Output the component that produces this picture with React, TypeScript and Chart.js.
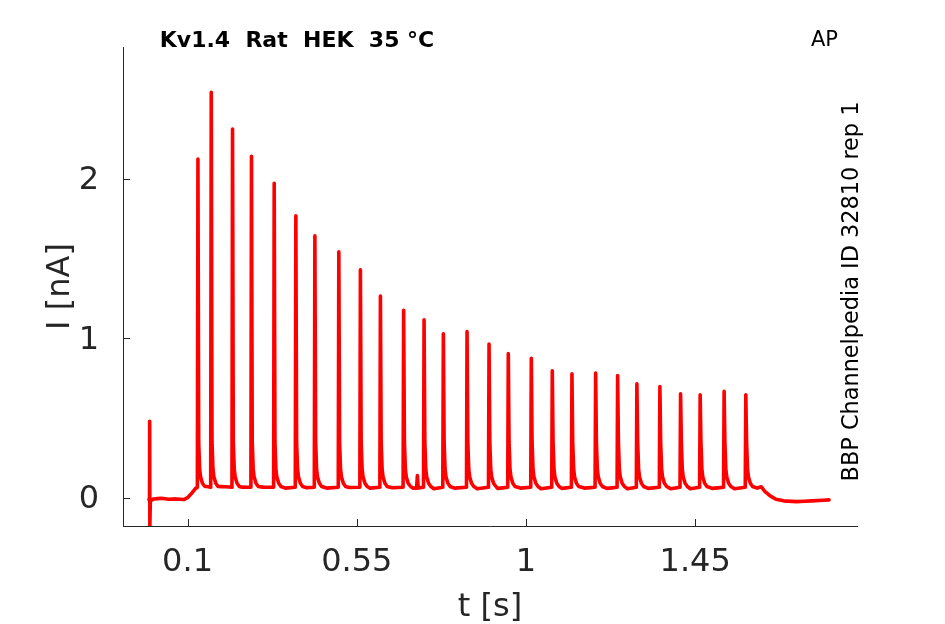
import React, { useEffect, useRef } from "react";
import { Chart, registerables } from "chart.js";

Chart.register(...registerables);

// ---- data ----
// spike (action potential) times [s] and peak currents [nA]
const spikeTimes = [
  0.1276, 0.163, 0.2196, 0.27, 0.3304, 0.388, 0.4386, 0.5023, 0.5597, 0.6129,
  0.6747, 0.729, 0.7803, 0.8433, 0.9018, 0.953, 1.0142, 1.07, 1.1223, 1.1853,
  1.2438, 1.295, 1.3562, 1.4112, 1.4633, 1.527, 1.5847,
];
const spikePeaks = [
  2.126, 2.545, 2.314, 2.143, 1.973, 1.769, 1.643, 1.543, 1.43, 1.266,
  1.176, 1.117, 1.029, 1.042, 0.964, 0.904, 0.874, 0.797, 0.778, 0.782,
  0.767, 0.715, 0.698, 0.652, 0.646, 0.667, 0.646,
];
// shape of each spike's foot and decaying tail (time offset from peak, current)
const spikeFootDt = [-0.0015, 0.002, 0.0045, 0.007, 0.012, 0.018];
const spikeFootI = [0.065, 0.35, 0.18, 0.13, 0.09, 0.07];

// trace between spikes: time [s] and current [nA]
const baseT = [
  -0.003, -0.0012, -0.0008, -0.0003, 0.001, 0.01, 0.03, 0.05, 0.07, 0.09,
  0.1, 0.112, 0.122,
  0.152, 0.2, 0.245, 0.3, 0.36, 0.415, 0.47, 0.53, 0.585, 0.645,
  0.7, 0.709, 0.7112, 0.7135, 0.755, 0.81, 0.87, 0.925, 0.985, 1.04, 1.095,
  1.155, 1.215, 1.27, 1.325, 1.385, 1.437, 1.495, 1.555,
  1.615, 1.626, 1.635, 1.65, 1.665, 1.685, 1.72, 1.76, 1.79, 1.806,
];
const baseI = [
  -0.012, -0.012, 0.48, -0.178, -0.02, -0.008, -0.004, -0.01, -0.008, -0.012,
  0.0, 0.03, 0.06,
  0.07, 0.068, 0.066, 0.066, 0.06, 0.063, 0.06, 0.064, 0.06, 0.062,
  0.06, 0.06, 0.138, 0.06, 0.056, 0.06, 0.056, 0.058, 0.06, 0.056, 0.058,
  0.06, 0.058, 0.056, 0.058, 0.056, 0.056, 0.058, 0.056,
  0.06, 0.068, 0.04, 0.01, -0.01, -0.02, -0.025, -0.02, -0.016, -0.014,
];

const xTicks = [0.1, 0.55, 1, 1.45];
const yTicks = [0, 1, 2];
const xRange = [-0.0717, 1.8804];
const yRange = [-0.178, 2.829];

const titleText = "Kv1.4  Rat  HEK  35 °C";
const cornerText = "AP";
const sideText = "BBP Channelpedia ID 32810 rep 1";

const AXIS = "#262626";
const FONT = "'DejaVu Sans', 'Liberation Sans', sans-serif";

function buildTrace() {
  const pts: { x: number; y: number }[] = [];
  baseT.forEach((t, i) => pts.push({ x: t, y: baseI[i] }));
  spikeTimes.forEach((t, i) => {
    pts.push({ x: t, y: spikePeaks[i] });
    spikeFootDt.forEach((dt, k) => pts.push({ x: t + dt, y: spikeFootI[k] }));
  });
  pts.sort((a, b) => a.x - b.x);
  return pts;
}

const decorPlugin = {
  id: "decor",
  afterDraw(chart: any) {
    const { ctx, chartArea, scales } = chart;
    ctx.save();
    // inward tick marks
    ctx.strokeStyle = AXIS;
    ctx.lineWidth = 1;
    ctx.beginPath();
    yTicks.forEach((v) => {
      const py = Math.round(scales.y.getPixelForValue(v)) + 0.5;
      ctx.moveTo(chartArea.left, py);
      ctx.lineTo(chartArea.left + 7, py);
    });
    xTicks.forEach((v) => {
      const px = Math.round(scales.x.getPixelForValue(v)) + 0.5;
      ctx.moveTo(px, chartArea.bottom);
      ctx.lineTo(px, chartArea.bottom - 7);
    });
    ctx.stroke();

    ctx.fillStyle = "#000";
    ctx.textBaseline = "alphabetic";
    ctx.font = `bold 22px ${FONT}`;
    ctx.textAlign = "center";
    ctx.fillText(titleText, 297, 46.5);

    ctx.font = `21px ${FONT}`;
    ctx.textAlign = "left";
    ctx.fillText(cornerText, 811, 46);

    ctx.font = `22.4px ${FONT}`;
    ctx.translate(857.5, 291.5);
    ctx.rotate(-Math.PI / 2);
    ctx.textAlign = "center";
    ctx.fillText(sideText, 0, 0);
    ctx.restore();
  },
};

export default function App() {
  const ref = useRef<HTMLCanvasElement>(null);
  useEffect(() => {
    const chart = new Chart(ref.current!, {
      type: "line",
      data: {
        datasets: [
          {
            data: buildTrace(),
            borderColor: "#ff0000",
            borderWidth: 3.6,
            borderJoinStyle: "round",
            borderCapStyle: "round",
            pointRadius: 0,
            tension: 0.000001,
            fill: false,
          },
        ],
      },
      options: {
        animation: false,
        responsive: false,
        devicePixelRatio: 1,
        layout: { padding: { left: 0, top: 47, right: 88, bottom: 0 } },
        plugins: { legend: { display: false }, tooltip: { enabled: false } },
        scales: {
          x: {
            type: "linear",
            position: "bottom",
            min: xRange[0],
            max: xRange[1],
            afterFit: (s: any) => {
              s.height = 98;
            },
            afterBuildTicks: (s: any) => {
              s.ticks = xTicks.map((v) => ({ value: v }));
            },
            ticks: {
              autoSkip: false,
              maxRotation: 0,
              padding: 9,
              color: AXIS,
              font: { family: FONT, size: 32 },
              callback: (v: any) => String(v),
            },
            grid: { display: false },
            border: { display: true, color: AXIS, width: 1 },
            title: {
              display: true,
              text: "t [s]",
              color: AXIS,
              font: { family: FONT, size: 32, lineHeight: 1 },
              padding: { top: 0, bottom: 0 },
            },
          },
          y: {
            type: "linear",
            position: "left",
            min: yRange[0],
            max: yRange[1],
            afterFit: (s: any) => {
              s.width = 123;
            },
            afterBuildTicks: (s: any) => {
              s.ticks = yTicks.map((v) => ({ value: v }));
            },
            ticks: {
              padding: 16,
              labelOffset: 2,
              color: AXIS,
              font: { family: FONT, size: 32 },
              callback: (v: any) => String(v),
            },
            grid: { display: false },
            border: { display: true, color: AXIS, width: 1 },
            title: {
              display: true,
              text: "I [nA]",
              color: AXIS,
              font: { family: FONT, size: 32, lineHeight: 1 },
              padding: { top: 45, bottom: 0 },
            },
          },
        },
      },
      plugins: [decorPlugin],
    } as any);
    return () => chart.destroy();
  }, []);
  return (
    <div style={{ position: "absolute", left: 0, top: 0, width: 945, height: 624, background: "#fff" }}>
      <canvas ref={ref} width={945} height={624} style={{ display: "block", width: 945, height: 624 }} />
    </div>
  );
}
